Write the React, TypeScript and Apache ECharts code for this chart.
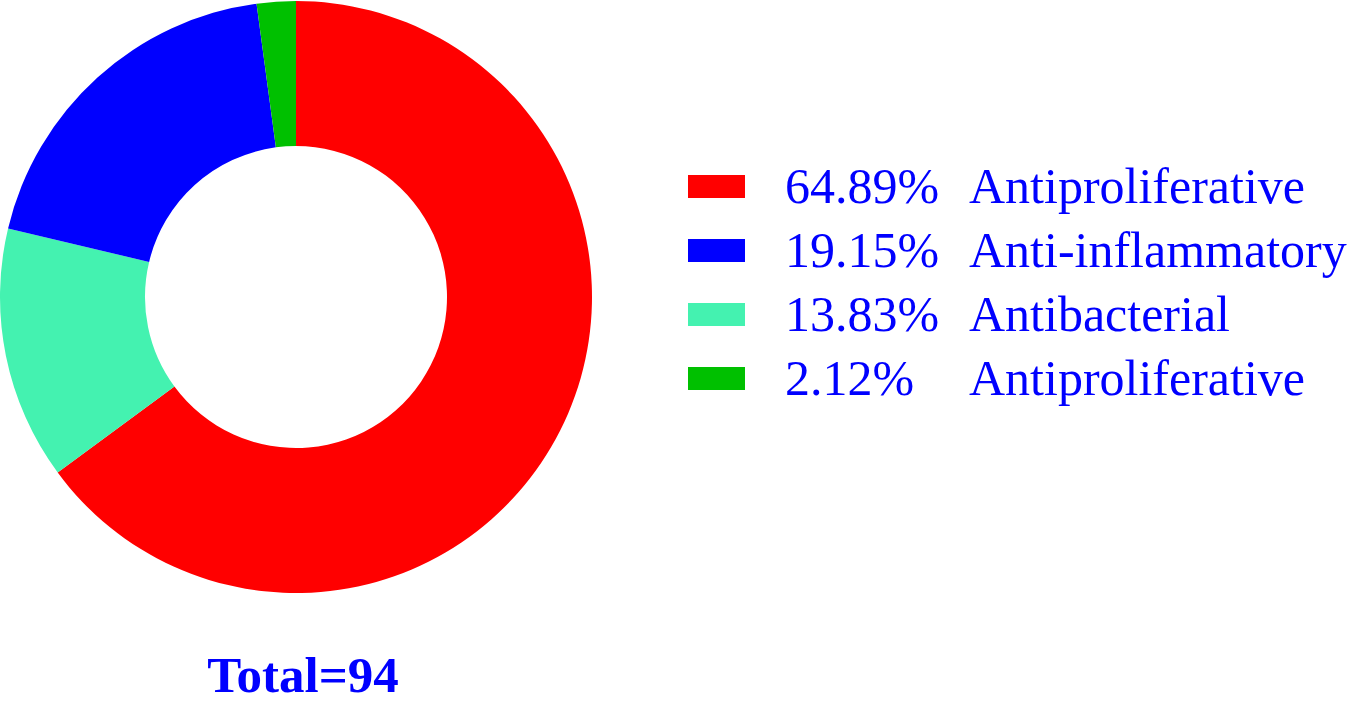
import React, { useEffect, useRef } from "react";
import * as echarts from "echarts";

// Legend order
const categories = ["Antiproliferative", "Anti-inflammatory", "Antibacterial", "Antiproliferative"];
const counts = [61, 18, 13, 2];
const percentLabels = ["64.89%", "19.15%", "13.83%", "2.12%"];
const colors = ["#FF0000", "#0000FF", "#44F2B0", "#00C000"];
// clockwise drawing order of slices starting at 12 o'clock (indices into the arrays above)
const sliceOrder = [0, 2, 1, 3];
const totalLabel = "Total=94";

export default function App() {
  const ref = useRef<HTMLDivElement>(null);
  useEffect(() => {
    if (!ref.current) return;
    const chart = echarts.init(ref.current, undefined, { renderer: "svg" });
    const font = "'Liberation Serif', 'Times New Roman', serif";
    const legendGraphics: any[] = [];
    categories.forEach((name, i) => {
      const cy = 187 + i * 64;
      legendGraphics.push({
        type: "rect",
        shape: { x: 688, y: cy - 12, width: 57, height: 23 },
        style: { fill: colors[i] },
      });
      legendGraphics.push({
        type: "text",
        x: 785,
        y: cy - 1,
        style: {
          text: percentLabels[i],
          fill: "#0000FF",
          font: `50px ${font}`,
          textAlign: "left",
          textVerticalAlign: "middle",
        },
      });
      legendGraphics.push({
        type: "text",
        x: 969,
        y: cy - 1,
        style: {
          text: name,
          fill: "#0000FF",
          font: `50px ${font}`,
          textAlign: "left",
          textVerticalAlign: "middle",
        },
      });
    });
    legendGraphics.push({
      type: "text",
      x: 303,
      y: 675,
      style: {
        text: totalLabel,
        fill: "#0000FF",
        font: `bold 51px ${font}`,
        textAlign: "center",
        textVerticalAlign: "middle",
      },
    });

    chart.setOption({
      animation: false,
      backgroundColor: "#FFFFFF",
      series: [
        {
          type: "pie",
          center: [296, 297],
          radius: [151, 296],
          startAngle: 90,
          clockwise: true,
          avoidLabelOverlap: false,
          label: { show: false },
          labelLine: { show: false },
          emphasis: { disabled: true },
          silent: true,
          itemStyle: { borderWidth: 0 },
          data: sliceOrder.map((i) => ({
            name: categories[i] + " " + i,
            value: counts[i],
            itemStyle: { color: colors[i] },
          })),
        },
      ],
      graphic: legendGraphics,
    });
    return () => chart.dispose();
  }, []);
  return (
    <div
      ref={ref}
      style={{ position: "fixed", left: 0, top: 0, width: 1351, height: 705 }}
    />
  );
}
